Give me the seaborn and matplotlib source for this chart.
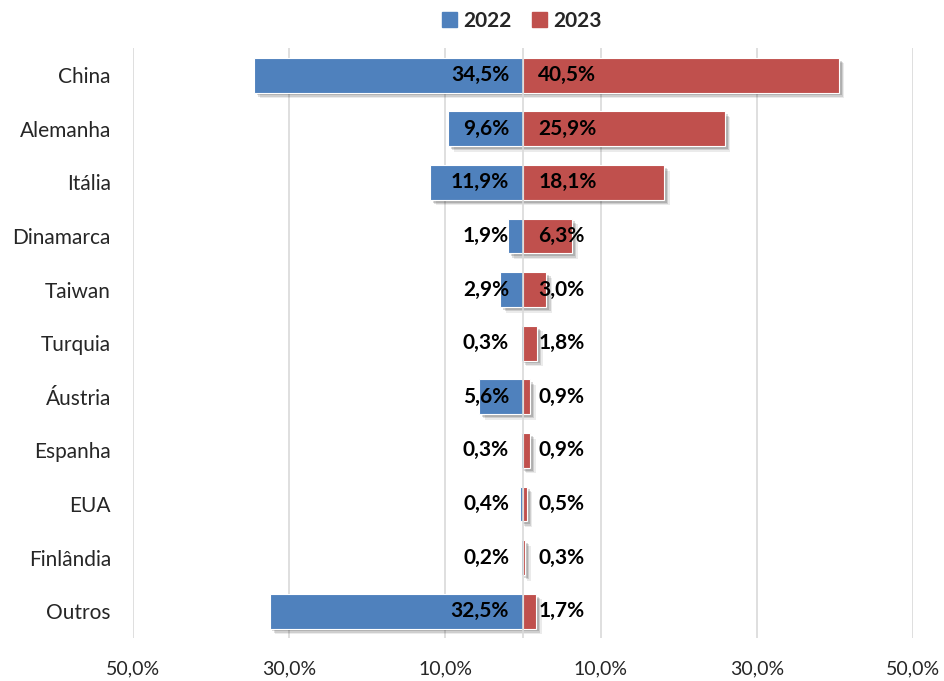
import numpy as np
import pandas as pd
import matplotlib
matplotlib.use("Agg")
import matplotlib.pyplot as plt
import matplotlib.patheffects as pe
import seaborn as sns

# dados do gráfico
paises = ["China", "Alemanha", "Itália", "Dinamarca", "Taiwan", "Turquia",
          "Áustria", "Espanha", "EUA", "Finlândia", "Outros"]
v2022 = [34.5, 9.6, 11.9, 1.9, 2.9, 0.3, 5.6, 0.3, 0.4, 0.2, 32.5]
v2023 = [40.5, 25.9, 18.1, 6.3, 3.0, 1.8, 0.9, 0.9, 0.5, 0.3, 1.7]
anos = ["2022", "2023"]
cores = ["#4F81BD", "#C0504D"]
ticks = [-50, -30, -10, 10, 30, 50]

sns.set_style("white")
plt.rcParams['font.family'] = ['Lato', 'DejaVu Sans']

df = pd.DataFrame({
    'pais': paises * 2,
    'ano': [anos[0]] * len(paises) + [anos[1]] * len(paises),
    'valor': [-v for v in v2022] + v2023,
})

fig = plt.figure(figsize=(9.44, 6.81), dpi=100)
ax = fig.add_axes([0.141, 0.063, 0.826, 0.866])

sns.barplot(data=df, y='pais', x='valor', hue='ano', orient='h', dodge=False,
            palette=cores, saturation=1, width=0.65, edgecolor='white', linewidth=0.8,
            ax=ax, legend=False, zorder=3)

# sombra suave das barras
for p in ax.patches:
    p.set_path_effects([pe.SimplePatchShadow(offset=(4, -4), shadow_rgbFace='black', alpha=0.08),
                        pe.SimplePatchShadow(offset=(3, -3), shadow_rgbFace='black', alpha=0.12),
                        pe.SimplePatchShadow(offset=(2, -2), shadow_rgbFace='black', alpha=0.15),
                        pe.Normal()])

# rótulos dos valores
for i in range(len(paises)):
    ax.annotate(f"{v2022[i]:.1f}%".replace('.', ','), xy=(0, i), xytext=(-10, 0),
                textcoords='offset points', ha='right', va='center',
                fontsize=15, fontweight='bold', color='black', zorder=5)
    ax.annotate(f"{v2023[i]:.1f}%".replace('.', ','), xy=(0, i), xytext=(11, 0),
                textcoords='offset points', ha='left', va='center',
                fontsize=15, fontweight='bold', color='black', zorder=5)

ax.set_xlim(-50, 50)
ax.set_ylim(len(paises) - 0.5, -0.5)
ax.set_xticks(ticks)
ax.set_xticklabels([f"{abs(t):.1f}%".replace('.', ',') for t in ticks], fontsize=14)
ax.tick_params(axis='x', length=0, pad=16)
ax.tick_params(axis='y', length=0, pad=16, labelsize=15)
ax.set_xlabel('')
ax.set_ylabel('')
ax.grid(axis='x', color='#D9D9D9', linewidth=1.2, zorder=0)
ax.axvline(0, color='#D9D9D9', linewidth=1.2, zorder=4)
for s in ax.spines.values():
    s.set_visible(False)

handles = [plt.Rectangle((0, 0), 1, 1, color=c) for c in cores]
fig.legend(handles, anos, loc='upper center', bbox_to_anchor=(0.553, 1.012), ncol=2,
           frameon=False, prop={'weight': 'bold', 'size': 15},
           handlelength=0.7, handleheight=0.7, handletextpad=0.3, columnspacing=1.0)

fig.savefig('out.png', dpi=100)
